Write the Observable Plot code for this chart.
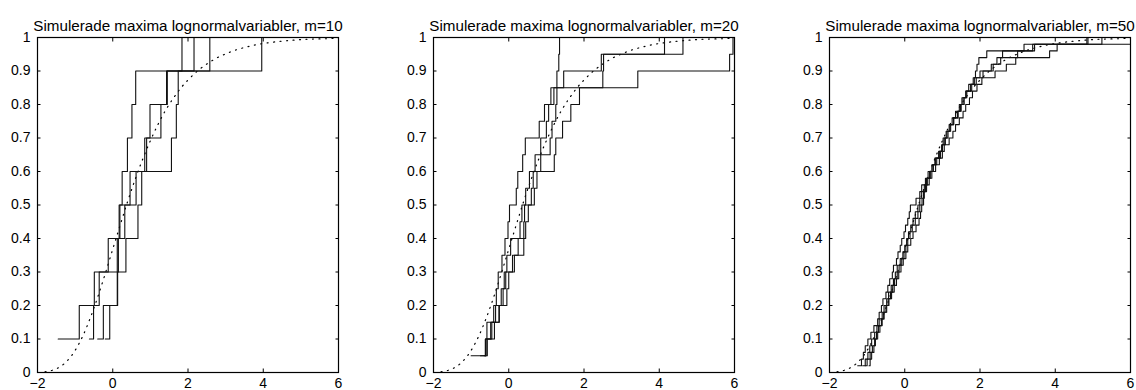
<!DOCTYPE html>
<html><head><meta charset="utf-8">
<script src="https://cdn.jsdelivr.net/npm/d3@7"></script>
<script src="https://cdn.jsdelivr.net/npm/@observablehq/plot@0.6"></script>
<style>
html,body{margin:0;padding:0;background:#fff;overflow:hidden}
#wrap{position:relative;width:1136px;height:390px;}
#wrap svg{position:absolute;top:0;}
</style></head><body><div id="wrap"></div>
<script>
const xTicks = [-2, 0, 2, 4, 6];
const yTicks = [0, 0.1, 0.2, 0.3, 0.4, 0.5, 0.6, 0.7, 0.8, 0.9, 1];
const titles = [
  "Simulerade maxima lognormalvariabler, m=10",
  "Simulerade maxima lognormalvariabler, m=20",
  "Simulerade maxima lognormalvariabler, m=50"
];

// m=10: four simulated samples (sorted values)
const m10_a = [-1.45, -0.89, -0.49, -0.12, 0.19, 0.25, 0.39, 0.51, 0.61, 2.16];
const m10_b = [-0.62, -0.51, -0.36, 0.12, 0.17, 0.46, 0.90, 0.99, 1.43, 1.84];
const m10_c = [-0.40, -0.25, 0.13, 0.15, 0.32, 0.62, 0.85, 1.28, 1.45, 2.58];
const m10_d = [-0.20, -0.08, 0.12, 0.35, 0.67, 0.77, 1.56, 1.69, 1.74, 3.96];

// m=20
const m20_a = [-0.75, -0.62, -0.48, -0.40, -0.33, -0.28, -0.18, -0.10, -0.02, 0.02, 0.20, 0.24, 0.37, 0.44, 0.81, 0.95, 1.12, 1.28, 1.33, 1.35];
const m20_b = [-1.00, -0.62, -0.58, -0.35, -0.20, -0.12, -0.05, 0.05, 0.30, 0.35, 0.45, 0.55, 0.70, 0.85, 1.00, 1.06, 1.20, 1.46, 2.46, 4.63];
const m20_c = [-0.65, -0.60, -0.45, -0.25, -0.15, -0.08, 0.10, 0.25, 0.40, 0.42, 0.60, 0.65, 0.85, 1.10, 1.15, 1.25, 1.28, 2.50, 2.52, 4.14];
const m20_d = [-0.62, -0.57, -0.38, -0.26, -0.05, 0.00, 0.15, 0.40, 0.45, 0.52, 0.68, 0.75, 1.21, 1.25, 1.43, 1.65, 1.88, 3.43, 5.87, 5.96];

// m=50
const m50_a = [-1.25, -1.15, -1.10, -1.05, -0.98, -0.90, -0.82, -0.72, -0.68, -0.62, -0.58, -0.50, -0.45, -0.40, -0.33, -0.30, -0.22, -0.18, -0.12, -0.08, -0.02, 0.02, 0.08, 0.12, 0.15, 0.30, 0.40, 0.45, 0.55, 0.62, 0.75, 0.82, 0.95, 1.00, 1.05, 1.12, 1.20, 1.30, 1.42, 1.50, 1.58, 1.62, 1.70, 1.85, 1.88, 1.92, 1.97, 2.18, 3.17, 4.87];
const m50_b = [-1.12, -1.05, -0.98, -0.93, -0.88, -0.80, -0.74, -0.68, -0.60, -0.55, -0.48, -0.43, -0.36, -0.30, -0.25, -0.20, -0.12, -0.05, 0.00, 0.05, 0.10, 0.16, 0.22, 0.28, 0.35, 0.40, 0.45, 0.52, 0.58, 0.66, 0.72, 0.80, 0.90, 0.98, 1.02, 1.10, 1.18, 1.26, 1.35, 1.45, 1.52, 1.63, 1.75, 1.82, 2.00, 2.30, 2.45, 2.60, 3.40, 5.24];
const m50_c = [-1.05, -1.00, -0.92, -0.86, -0.80, -0.75, -0.70, -0.62, -0.56, -0.50, -0.44, -0.38, -0.32, -0.27, -0.20, -0.15, -0.08, -0.02, 0.03, 0.08, 0.14, 0.20, 0.28, 0.35, 0.40, 0.46, 0.50, 0.55, 0.60, 0.68, 0.76, 0.85, 0.92, 1.00, 1.08, 1.15, 1.22, 1.30, 1.40, 1.48, 1.55, 1.65, 1.78, 1.90, 2.08, 2.35, 2.55, 3.00, 3.45, 6.50];
const m50_d = [-0.95, -0.92, -0.88, -0.82, -0.78, -0.72, -0.66, -0.60, -0.55, -0.48, -0.42, -0.35, -0.28, -0.22, -0.16, -0.10, -0.04, 0.03, 0.08, 0.16, 0.22, 0.30, 0.38, 0.42, 0.45, 0.50, 0.52, 0.58, 0.65, 0.72, 0.82, 0.92, 1.00, 1.05, 1.18, 1.28, 1.35, 1.45, 1.55, 1.62, 1.72, 1.80, 1.92, 2.05, 2.40, 2.70, 2.95, 3.85, 4.05, 4.84];

// dotted reference distribution curve
const refX = [-1.8, -1.6, -1.4, -1.2, -1.0, -0.8, -0.6, -0.4, -0.2, 0, 0.2, 0.4, 0.6, 0.8, 1.0, 1.2, 1.4, 1.6, 1.8, 2.0, 2.2, 2.4, 2.6, 2.8, 3.0, 3.2, 3.4, 3.6, 3.8, 4.0, 4.4, 4.8, 5.2, 5.6, 6.0];
const refY = [0.002, 0.007, 0.017, 0.036, 0.066, 0.108, 0.162, 0.225, 0.295, 0.368, 0.441, 0.512, 0.578, 0.638, 0.692, 0.740, 0.782, 0.817, 0.848, 0.873, 0.895, 0.913, 0.928, 0.941, 0.951, 0.960, 0.967, 0.973, 0.978, 0.982, 0.988, 0.992, 0.995, 0.996, 0.998];

const panels = [
  [m10_a, m10_b, m10_c, m10_d],
  [m20_a, m20_b, m20_c, m20_d],
  [m50_a, m50_b, m50_c, m50_d]
];
const lefts = [1, 397, 793];
const refCurve = refX.map((x, i) => ({x, y: refY[i]}));
const fmt = d => (d < 0 ? "\u2212" + Math.abs(d) : String(d));

panels.forEach((series, p) => {
  const rows = [];
  series.forEach((arr, s) => arr.forEach((v, i) => rows.push({x: v, y: (i + 1) / arr.length, s})));
  const chart = Plot.plot({
    width: 344, height: 390,
    marginLeft: 36, marginRight: 7, marginTop: 37, marginBottom: 18,
    style: {fontFamily: "'Liberation Sans', Arial, Helvetica, sans-serif", fontSize: "14px", color: "#000", background: "#fff", overflow: "visible"},
    x: {domain: [-2, 6]},
    y: {domain: [0, 1]},
    marks: [
      Plot.line(refCurve, {x: "x", y: "y", stroke: "#000", strokeWidth: 1.2, strokeDasharray: "1,5.5", curve: "monotone-x"}),
      Plot.line(rows, {x: "x", y: "y", z: "s", stroke: "#111", strokeWidth: 1.1, curve: "step-after", clip: true}),
      Plot.axisX({ticks: xTicks, tickFormat: fmt, anchor: "bottom", tickSize: -3.5, tickPadding: 9.5, label: null}),
      Plot.axisX({ticks: xTicks, anchor: "top", tickSize: -3.5, fill: "none", label: null}),
      Plot.axisY({ticks: yTicks, tickFormat: fmt, anchor: "left", tickSize: -3.5, tickPadding: 10.5, label: null}),
      Plot.axisY({ticks: yTicks, anchor: "right", tickSize: -3.5, fill: "none", label: null}),
      Plot.frame({stroke: "#000", strokeWidth: 1.2}),
      Plot.text([titles[p]], {text: d => d, frameAnchor: "top", dy: -17, fontSize: 15.2})
    ]
  });
  chart.style.left = lefts[p] + "px";
  document.getElementById("wrap").appendChild(chart);
});
</script>
</body></html>
